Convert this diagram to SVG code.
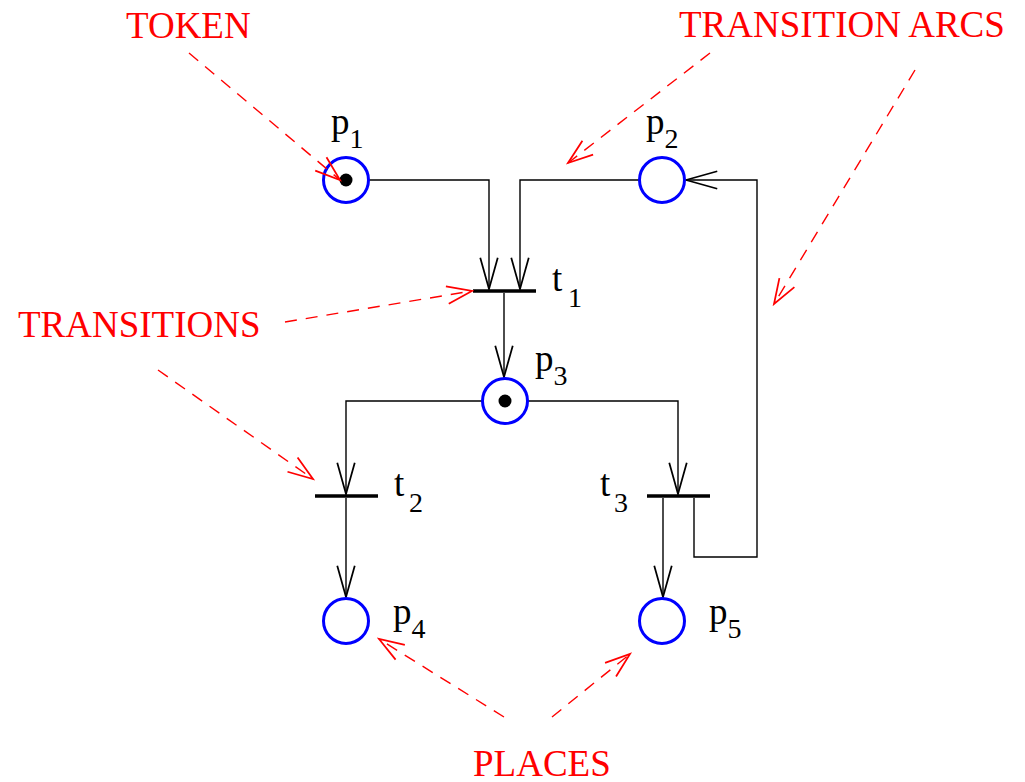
<svg xmlns="http://www.w3.org/2000/svg" width="1025" height="782" viewBox="0 0 1025 782">
<style>
.place{fill:none;stroke:#0000ff;stroke-width:3}
.tok{fill:#000}
.bar{stroke:#000;stroke-width:3.5;fill:none}
.arc{fill:none;stroke:#000;stroke-width:1.4;marker-end:url(#ab)}
.note{fill:none;stroke:#ff0000;stroke-width:1.4;stroke-dasharray:12 9;marker-end:url(#ar)}
.lbl{font-family:"Liberation Serif","Times New Roman",serif;font-size:37px;fill:#000}
.sub{font-size:28px}
.red{font-family:"Liberation Serif","Times New Roman",serif;font-size:37px;fill:#ff0000}
</style>
<defs>
<marker id="ab" markerUnits="userSpaceOnUse" markerWidth="40" markerHeight="40" viewBox="-30 -10 32 20" refX="0" refY="0" orient="auto">
<path d="M-25,-7 L0,0 L-25,7" fill="none" stroke="#000" stroke-width="1.4"/>
</marker>
<marker id="ar" markerUnits="userSpaceOnUse" markerWidth="40" markerHeight="40" viewBox="-30 -10 32 20" refX="0" refY="0" orient="auto">
<path d="M-20,-7 L0,0 L-20,7" fill="none" stroke="#ff0000" stroke-width="1.4" stroke-dasharray="none"/>
</marker>
</defs>
<rect width="1025" height="782" fill="#fff"/>
<g id="connectors">
<path class="arc" d="M369,180 H489 V289"/>
<path class="arc" d="M639,180 H520 V289"/>
<path class="arc" d="M504,293 V377"/>
<path class="arc" d="M482,401 H346 V494"/>
<path class="arc" d="M528,401 H678 V494"/>
<path class="arc" d="M346,498 V597"/>
<path class="arc" d="M663,498 V597"/>
<path class="arc" d="M694,498 V557 H757 V180 H686"/>
</g>
<g id="p1"><circle class="place" cx="346" cy="180" r="22.5"/><circle class="tok" cx="346" cy="180" r="6.5"/><text class="lbl" x="331" y="134">p<tspan class="sub" dy="14">1</tspan></text></g>
<g id="p2"><circle class="place" cx="662" cy="180" r="22.5"/><text class="lbl" x="646" y="134">p<tspan class="sub" dy="14">2</tspan></text></g>
<g id="p3"><circle class="place" cx="505" cy="401" r="22.5"/><circle class="tok" cx="505" cy="401" r="6.5"/><text class="lbl" x="535" y="371">p<tspan class="sub" dy="14">3</tspan></text></g>
<g id="p4"><circle class="place" cx="346" cy="621" r="22.5"/><text class="lbl" x="393" y="624">p<tspan class="sub" dy="14">4</tspan></text></g>
<g id="p5"><circle class="place" cx="662" cy="621" r="22.5"/><text class="lbl" x="709" y="624">p<tspan class="sub" dy="14">5</tspan></text></g>
<g id="t1"><line class="bar" x1="473" y1="291" x2="536" y2="291"/><text class="lbl" x="552" y="291">t<tspan class="sub" x="568" dy="16">1</tspan></text></g>
<g id="t2"><line class="bar" x1="315" y1="496" x2="378" y2="496"/><text class="lbl" x="394" y="496">t<tspan class="sub" x="409" dy="16">2</tspan></text></g>
<g id="t3"><line class="bar" x1="647" y1="496" x2="710" y2="496"/><text class="lbl" x="600" y="496">t<tspan class="sub" x="614" dy="16">3</tspan></text></g>
<g id="annotations">
<text class="red" x="126" y="38">TOKEN</text>
<text class="red" x="679" y="37">TRANSITION ARCS</text>
<text class="red" x="18" y="337">TRANSITIONS</text>
<text class="red" x="473" y="776">PLACES</text>
<path class="note" d="M189,53 L340,180"/>
<path class="note" d="M710,53 L568,163"/>
<path class="note" d="M915,70 L774,304"/>
<path class="note" d="M285,322 L472,291"/>
<path class="note" d="M158,370 L313,479"/>
<path class="note" d="M504,717 L379,639"/>
<path class="note" d="M552,717 L630,654"/>
</g>
</svg>
